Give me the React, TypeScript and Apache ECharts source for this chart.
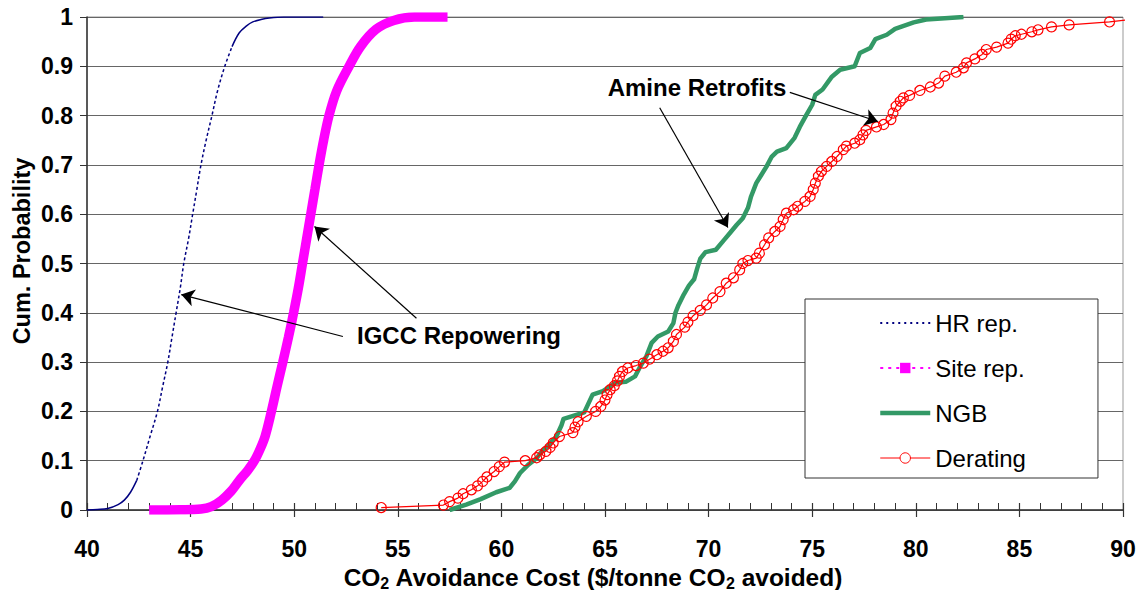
import React, { useEffect, useRef } from "react";
import * as echarts from "echarts";

const FONT = "'Liberation Sans', Arial, Helvetica, sans-serif";

// Axis settings
const xMin = 40;
const xMax = 90;
const xStep = 5;
const yMin = 0;
const yMax = 1;
const yStep = 0.1;

// HR rep. (dark blue dotted CDF) split in tails (drawn solid by density) and middle (dotted)
const hrLower: [number, number][] = [
  [40.0, 0.0], [40.5, 0.001], [41.0, 0.003], [41.5, 0.011], [41.8, 0.02], [42.1, 0.036], [42.4, 0.06],
];
const hrMiddle: [number, number][] = [
  [42.4, 0.06], [42.7, 0.1], [43.05, 0.15], [43.4, 0.2], [43.65, 0.25], [43.9, 0.3], [44.1, 0.35],
  [44.3, 0.4], [44.5, 0.45], [44.67, 0.5], [44.9, 0.55], [45.1, 0.6], [45.3, 0.65], [45.5, 0.7],
  [45.75, 0.75], [46.03, 0.8], [46.3, 0.85], [46.65, 0.9], [47.0, 0.94],
];
const hrUpper: [number, number][] = [
  [47.0, 0.94], [47.35, 0.968], [47.7, 0.982], [48.0, 0.99], [48.4, 0.995], [48.8, 0.998],
  [49.5, 1.0], [51.4, 1.0],
];

// Site rep. (magenta, thick)
const siteRep: [number, number][] = [
  [43.0, 0.0], [44.5, 0.0005], [45.5, 0.002], [46.0, 0.007], [46.5, 0.02], [46.95, 0.038],
  [47.35, 0.06], [47.75, 0.08], [48.08, 0.1], [48.37, 0.125], [48.6, 0.15], [48.9, 0.2],
  [49.17, 0.25], [49.45, 0.3], [49.72, 0.35], [49.97, 0.4], [50.2, 0.45], [50.4, 0.5],
  [50.6, 0.55], [50.8, 0.6], [51.0, 0.65], [51.2, 0.7], [51.42, 0.75], [51.68, 0.8],
  [52.05, 0.85], [52.65, 0.9], [53.2, 0.94], [53.95, 0.975], [54.8, 0.993], [55.8, 1.0],
  [57.4, 1.0],
];

// NGB (green)
const ngb: [number, number][] = [
  [57.5, 0.0], [58.3, 0.011], [59.0, 0.022], [59.75, 0.036], [60.4, 0.045], [60.65, 0.058],
  [60.9, 0.075], [61.3, 0.092], [61.7, 0.105], [61.95, 0.119], [62.2, 0.128], [62.65, 0.149],
  [62.9, 0.172], [63.0, 0.185], [64.0, 0.198], [64.4, 0.234], [64.9, 0.241], [65.5, 0.258],
  [66.0, 0.26], [66.45, 0.271], [66.7, 0.291], [67.0, 0.312], [67.25, 0.339], [67.55, 0.352],
  [68.05, 0.362], [68.3, 0.379], [68.4, 0.4], [68.55, 0.416], [68.8, 0.437], [69.05, 0.455],
  [69.3, 0.468], [69.45, 0.49], [69.6, 0.51], [69.85, 0.523], [70.35, 0.528], [70.75, 0.548],
  [71.05, 0.563], [71.35, 0.578], [71.65, 0.592], [71.9, 0.613], [72.05, 0.636], [72.3, 0.663],
  [72.55, 0.68], [72.8, 0.697], [73.05, 0.717], [73.3, 0.727], [73.75, 0.734], [74.15, 0.755],
  [74.4, 0.777], [74.7, 0.8], [75.0, 0.822], [75.15, 0.842], [75.5, 0.853], [75.95, 0.879],
  [76.35, 0.893], [77.05, 0.9], [77.3, 0.927], [77.8, 0.937], [78.05, 0.955], [78.6, 0.964],
  [79.0, 0.976], [79.9, 0.989], [80.5, 0.995], [82.3, 1.0],
];

// Derating (red, circles)
const derating: [number, number][] = [
  [54.2, 0.005], [57.2, 0.01], [57.5, 0.017], [57.9, 0.024], [58.15, 0.033], [58.55, 0.041],
  [58.85, 0.049], [59.1, 0.058], [59.3, 0.067], [59.65, 0.078], [59.9, 0.088], [60.15, 0.097],
  [61.15, 0.1], [61.7, 0.106], [61.85, 0.112], [62.15, 0.119], [62.35, 0.127], [62.5, 0.136],
  [62.8, 0.149], [63.45, 0.157], [63.55, 0.168], [63.7, 0.179], [64.1, 0.19], [64.55, 0.2],
  [64.8, 0.21], [65.0, 0.223], [65.1, 0.234], [65.25, 0.244], [65.45, 0.252], [65.6, 0.262],
  [65.7, 0.271], [65.85, 0.281], [66.1, 0.288], [66.5, 0.293], [66.85, 0.298], [67.15, 0.306],
  [67.5, 0.315], [67.8, 0.322], [68.05, 0.329], [68.3, 0.342], [68.45, 0.356], [68.85, 0.371],
  [69.0, 0.381], [69.25, 0.394], [69.6, 0.405], [69.9, 0.416], [70.2, 0.43], [70.55, 0.443],
  [70.85, 0.46], [71.2, 0.471], [71.5, 0.487], [71.65, 0.5], [71.9, 0.506], [72.3, 0.511],
  [72.45, 0.521], [72.7, 0.538], [72.9, 0.552], [73.2, 0.565], [73.45, 0.575], [73.6, 0.589],
  [73.75, 0.602], [74.1, 0.609], [74.3, 0.616], [74.65, 0.626], [74.9, 0.636], [75.05, 0.65],
  [75.15, 0.663], [75.3, 0.677], [75.45, 0.687], [75.7, 0.697], [75.95, 0.707], [76.2, 0.717],
  [76.5, 0.731], [76.65, 0.738], [77.05, 0.744], [77.3, 0.751], [77.45, 0.761], [77.6, 0.77],
  [78.1, 0.777], [78.45, 0.782], [78.8, 0.792], [78.9, 0.805], [79.05, 0.819], [79.25, 0.829],
  [79.4, 0.836], [79.7, 0.841], [80.2, 0.851], [80.7, 0.858], [81.1, 0.866], [81.4, 0.88],
  [81.95, 0.888], [82.3, 0.897], [82.45, 0.907], [82.85, 0.915], [83.2, 0.924], [83.4, 0.934],
  [83.9, 0.939], [84.45, 0.947], [84.6, 0.955], [84.8, 0.962], [85.1, 0.965], [85.6, 0.97],
  [85.9, 0.974], [86.55, 0.98], [87.4, 0.984], [89.35, 0.99],
];
const deratingTail: [number, number] = [90.2, 0.994];

// Annotation arrows: [from, to] in data coordinates
const amineArrows: [number, number][][] = [
  [[67.64, 0.816], [70.93, 0.573]],
  [[73.92, 0.847], [78.17, 0.788]],
];
const igccArrows: [number, number][][] = [
  [[52.35, 0.352], [44.55, 0.437]],
  [[55.9, 0.389], [50.98, 0.575]],
];

const legendNames = ["HR rep.", "Site rep.", "NGB", "Derating"];

export default function App() {
  const ref = useRef<HTMLDivElement>(null);

  useEffect(() => {
    if (!ref.current) return;
    const chart = echarts.init(ref.current, null, { renderer: "svg" });

    const axisColor = "#333";
    const labelStyle = {
      fontFamily: FONT,
      fontSize: 23,
      fontWeight: "bold" as const,
      color: "#000",
    };

    const arrowData = [...amineArrows, ...igccArrows].map(([a, b]) => [
      { coord: a },
      { coord: b },
    ]);

    const smoothLine = (name: string, data: [number, number][], lineStyle: any, extra: any = {}) => ({
      name,
      type: "line",
      data,
      smooth: 0.35,
      symbol: "none",
      emphasis: { disabled: true },
      silent: true,
      lineStyle,
      ...extra,
    });

    const annot = (text: string, x: number, y: number) => ({
      type: "text",
      x,
      y,
      style: {
        text,
        fontFamily: FONT,
        fontSize: 24,
        fontWeight: "bold",
        fill: "#000",
        align: "center",
        verticalAlign: "middle",
      },
    });

    const option: any = {
      animation: false,
      backgroundColor: "#fff",
      grid: {
        left: 87,
        top: 17,
        width: 1036,
        height: 493,
        show: true,
        borderColor: "#999",
        borderWidth: 1,
        backgroundColor: "transparent",
      },
      xAxis: [
        {
          type: "value",
          min: xMin,
          max: xMax,
          interval: xStep,
          position: "bottom",
          axisLine: { show: true, onZero: false, lineStyle: { color: axisColor, width: 1.5 } },
          axisTick: { show: true, inside: true, length: 7, lineStyle: { color: axisColor, width: 1.2 } },
          minorTick: { show: true, splitNumber: 5, length: 7, lineStyle: { color: axisColor, width: 1 } },
          splitLine: { show: false },
          axisLabel: { ...labelStyle, margin: 27 },
        },
        {
          type: "value",
          min: xMin,
          max: xMax,
          interval: xStep,
          position: "bottom",
          offset: 0,
          axisLine: { show: false, onZero: false },
          axisTick: { show: true, inside: false, length: 7, lineStyle: { color: axisColor, width: 1.2 } },
          axisLabel: { show: false },
          splitLine: { show: false },
        },
      ],
      yAxis: {
        type: "value",
        min: yMin,
        max: yMax,
        interval: yStep,
        axisLine: { show: true, onZero: false, lineStyle: { color: axisColor, width: 1.5 } },
        axisTick: { show: true, length: 7, lineStyle: { color: axisColor, width: 1 } },
        splitLine: { show: true, lineStyle: { color: "#666", width: 1 } },
        axisLabel: { ...labelStyle, margin: 14 },
      },
      legend: {
        orient: "vertical",
        left: 805,
        top: 299,
        padding: [12, 72, 8, 73],
        itemWidth: 50,
        itemHeight: 13,
        itemGap: 21,
        backgroundColor: "#fff",
        borderColor: "#333",
        borderWidth: 1,
        selectedMode: false,
        textStyle: { fontFamily: FONT, fontSize: 24, color: "#000" },
        data: [
          { name: legendNames[0], itemStyle: { opacity: 0 }, lineStyle: { color: "#000080", width: 2, type: [2, 4] } },
          { name: legendNames[1], lineStyle: { color: "#ff00ff", width: 2, type: [3, 5] } },
          { name: legendNames[2], itemStyle: { opacity: 0 }, lineStyle: { color: "#339966", width: 4.5, type: "solid" } },
          { name: legendNames[3], itemStyle: { color: "#ffffff", borderColor: "#ff0000", borderWidth: 1 }, lineStyle: { color: "#ff0000", width: 1 } },
        ],
      },
      series: [
        smoothLine(legendNames[0], hrMiddle, { color: "#000080", width: 1.5, type: [3, 2.5] }, { itemStyle: { color: "#000080" } }),
        smoothLine(legendNames[0], hrLower, { color: "#000080", width: 1.5 }, { itemStyle: { color: "#000080" } }),
        smoothLine(legendNames[0], hrUpper, { color: "#000080", width: 1.5 }, { itemStyle: { color: "#000080" } }),
        smoothLine(legendNames[1], siteRep, { color: "#ff00ff", width: 9.5 }, {
          symbol: "rect",
          symbolSize: 10,
          showSymbol: false,
          itemStyle: { color: "#ff00ff" },
        }),
        {
          name: legendNames[2],
          type: "line",
          data: ngb,
          symbol: "none",
          itemStyle: { color: "#339966" },
          lineStyle: { color: "#339966", width: 4.5, join: "round" },
          emphasis: { disabled: true },
          silent: true,
        },
        {
          name: legendNames[3],
          type: "line",
          data: [...derating, { value: deratingTail, symbol: "none" }],
          symbol: "circle",
          symbolSize: 10,
          showSymbol: true,
          showAllSymbol: true,
          clip: false,
          itemStyle: { color: "rgba(255,255,255,0)", borderColor: "#ff0000", borderWidth: 1.2 },
          lineStyle: { color: "#ff0000", width: 1.2 },
          emphasis: { disabled: true },
          silent: true,
        },
        {
          name: "arrows",
          type: "scatter",
          data: [],
          silent: true,
          markLine: {
            silent: true,
            animation: false,
            symbol: ["none", "arrow"],
            symbolSize: 13,
            label: { show: false },
            lineStyle: { color: "#000", width: 1.2, type: "solid" },
            emphasis: { disabled: true },
            data: arrowData,
          },
        },
      ],
      graphic: [
        {
          type: "text",
          x: 22,
          y: 251,
          rotation: Math.PI / 2,
          style: {
            text: "Cum. Probability",
            fontFamily: FONT,
            fontSize: 23.5,
            fontWeight: "bold",
            fill: "#000",
            align: "center",
            verticalAlign: "middle",
          },
        },
        {
          type: "text",
          x: 593,
          y: 577,
          style: {
            text: "{b|CO}{s|2}{b| Avoidance Cost ($/tonne CO}{s|2}{b| avoided)}",
            align: "center",
            verticalAlign: "middle",
            rich: {
              b: { fontFamily: FONT, fontSize: 24.5, fontWeight: "bold", fill: "#000", lineHeight: 24 },
              s: { fontFamily: FONT, fontSize: 16, fontWeight: "bold", fill: "#000", lineHeight: 24, padding: [12, 0, 0, 0] },
            },
          },
        },
        annot("Amine Retrofits", 697, 87),
        annot("IGCC Repowering", 459, 335),
      ],
    };

    chart.setOption(option);
    return () => {
      chart.dispose();
    };
  }, []);

  return (
    <div
      ref={ref}
      style={{ position: "fixed", left: 0, top: 0, width: 1141, height: 590, background: "#fff" }}
    />
  );
}
